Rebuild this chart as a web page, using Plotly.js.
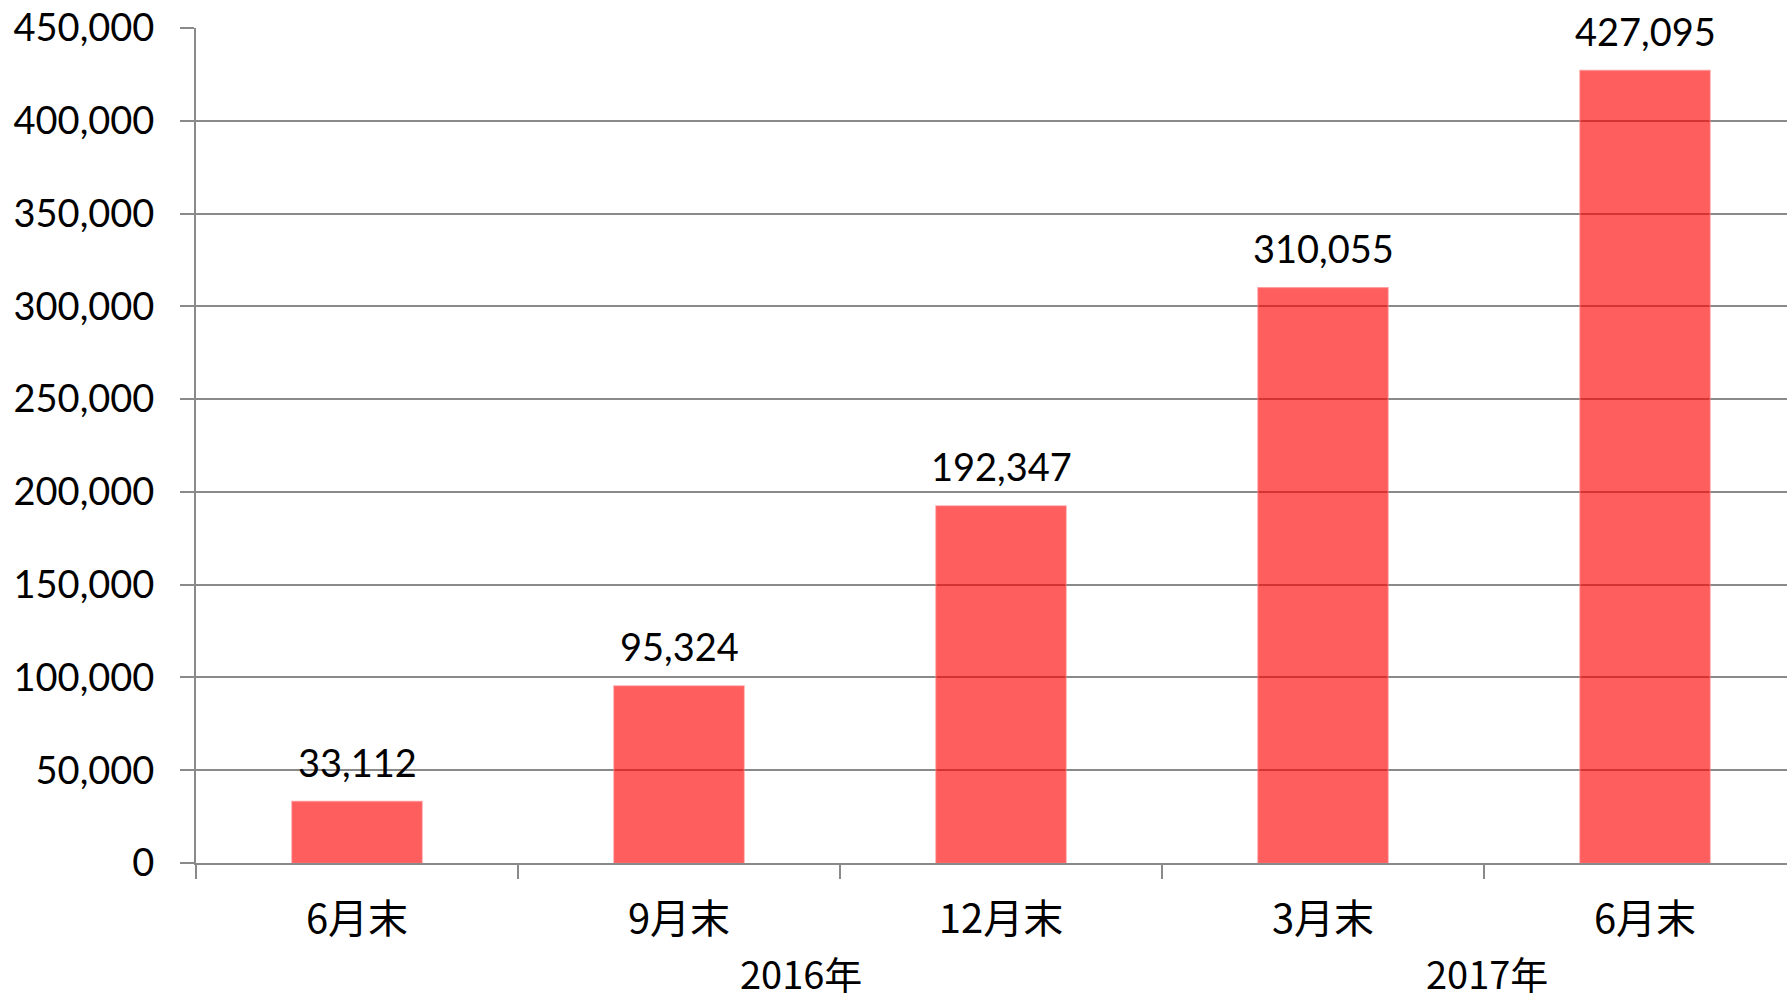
<!DOCTYPE html>
<html>
<head>
<meta charset="utf-8">
<script src="https://cdn.plot.ly/plotly-3.0.1.min.js"></script>
<style>
html,body{margin:0;padding:0;background:#fff;}
#chart{width:1787px;height:1000px;}
</style>
</head>
<body>
<div id="chart"></div>
<script>
// Data
const monthLabels = ['6月末', '9月末', '12月末', '3月末', '6月末'];
const yearLabels = ['2016年', '2017年'];
const values = [33112, 95324, 192347, 310055, 427095];
const yTickValues = [0, 50000, 100000, 150000, 200000, 250000, 300000, 350000, 400000, 450000];

const idx = monthLabels.map((_, i) => i);
const numFont = 'Lato, "Noto Sans CJK JP", sans-serif';
const cjkFont = '"Noto Sans CJK JP", sans-serif';
const grey = '#8a8a8a';

const trace = {
  type: 'bar',
  x: idx,
  y: values,
  width: 0.404,
  marker: {
    color: 'rgba(255,0,0,0.63)',
    line: {color: 'rgba(255,120,120,0.6)', width: 1.5}
  },
  hoverinfo: 'skip'
};

const dataLabels = values.map((v, i) => ({
  x: i, y: v, xref: 'x', yref: 'y',
  text: v.toLocaleString('en-US'),
  showarrow: false, yanchor: 'middle', yshift: 40,
  font: {family: numFont, size: 38, color: '#000'}
}));

const yearPos = [1.379, 3.51];
const yearAnn = yearLabels.map((t, i) => ({
  x: yearPos[i], y: -0.131, xref: 'x', yref: 'paper',
  text: t, showarrow: false, yanchor: 'middle', xanchor: 'center',
  font: {family: cjkFont, size: 38, color: '#000'}
}));

const layout = {
  width: 1787, height: 1000,
  margin: {l: 196, r: 0, t: 28, b: 137},
  paper_bgcolor: '#fff', plot_bgcolor: '#fff',
  showlegend: false,
  xaxis: {
    type: 'linear',
    range: [-0.5, -0.5 + (1787 - 196) / 322],
    tickmode: 'array', tickvals: idx, ticktext: monthLabels,
    ticks: '', showgrid: false, zeroline: false,
    showline: true, linecolor: grey, linewidth: 2,
    tickfont: {family: cjkFont, size: 40, color: '#000'},
    ticklabelstandoff: 20,
    minor: {tickmode: 'linear', tick0: -0.5, dtick: 1, ticks: 'outside', ticklen: 14, tickwidth: 2, tickcolor: grey, showgrid: false}
  },
  yaxis: {
    range: [0, 450000],
    tickmode: 'array', tickvals: yTickValues,
    tickformat: ',',
    ticks: 'outside', ticklen: 14, tickwidth: 2, tickcolor: grey,
    showgrid: true, gridcolor: grey, gridwidth: 2,
    zeroline: false,
    showline: true, linecolor: grey, linewidth: 2,
    tickfont: {family: numFont, size: 38, color: '#000'},
    ticklabelstandoff: 18
  },
  annotations: dataLabels.concat(yearAnn),
  bargap: 0.6
};

Plotly.newPlot('chart', [trace], layout, {displayModeBar: false, staticPlot: true});
</script>
</body>
</html>
